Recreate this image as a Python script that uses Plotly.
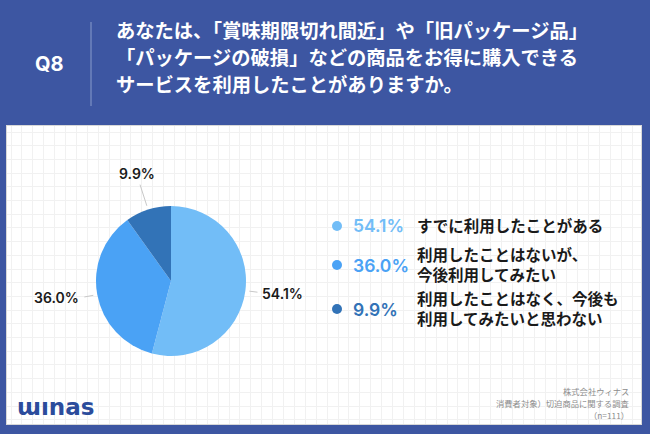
import math
import plotly.graph_objects as go

W, H = 650, 434

# ---- data ----
categories = ["すでに利用したことがある",
              "利用したことはないが、<br>今後利用してみたい",
              "利用したことはなく、今後も<br>利用してみたいと思わない"]
values = [54.1, 36.0, 9.9]
colors = ["#72BDF7", "#4AA2F5", "#3273B7"]
question_lines = ["あなたは、「賞味期限切れ間近」や「旧パッケージ品」",
                  "「パッケージの破損」などの商品をお得に購入できる",
                  "サービスを利用したことがありますか。"]
q_label = "Q8"
footer_lines = ["株式会社ウィナス", "消費者対象）切迫商品に関する調査", "（n=111）"]

BG = "#3D56A2"
JP = "Noto Sans CJK JP"
NUM = "Inter, Noto Sans CJK JP"


def px(x):
    return x / W


def py(y):
    return 1 - y / H


def ann(**kw):
    d = dict(xref="paper", yref="paper", showarrow=False)
    d.update(kw)
    return d


# pie geometry (pixels)
CX, CY, R = 171, 281, 75

fig = go.Figure()

# invisible scatter to render the gridded white panel
fig.add_trace(go.Scatter(x=[10], y=[130], mode="markers", marker=dict(opacity=0),
                         hoverinfo="skip", showlegend=False))

fig.add_trace(go.Pie(
    values=values, labels=categories, sort=False, direction="clockwise", rotation=0,
    marker=dict(colors=colors, line=dict(width=0)), textinfo="none", hoverinfo="skip",
    showlegend=False,
    domain=dict(x=[px(CX - R), px(CX + R)], y=[py(CY + R), py(CY - R)]),
))

annotations = []
shapes = []

# pie outside labels with leader lines
total = sum(values)
cum = 0.0
for v in values:
    mid = (cum + v / 2) / total * 2 * math.pi
    cum += v
    s, c = math.sin(mid), -math.cos(mid)
    r1 = R + 4
    r2 = R + 10 + 17 * abs(c)
    x1, y1 = CX + r1 * s, CY + r1 * c
    x2, y2 = CX + r2 * s, CY + r2 * c
    shapes.append(dict(type="line", xref="paper", yref="paper", x0=px(x1), y0=py(y1),
                       x1=px(x2), y1=py(y2), line=dict(color="#C8C8C8", width=1)))
    txt = f"{v:.1f}%"
    if abs(s) > 0.6:
        xa = "left" if s > 0 else "right"
        annotations.append(ann(x=px(x2 + (3 if s > 0 else -3)), y=py(y2 + 1), text=txt,
                               xanchor=xa, yanchor="middle",
                               font=dict(family=NUM, size=14, color="#1A1A1A", weight=600)))
    else:
        annotations.append(ann(x=px(x2 - 3), y=py(y2 - 1), text=txt,
                               xanchor="center", yanchor="bottom",
                               font=dict(family=NUM, size=14, color="#1A1A1A", weight=600)))

# legend on the right
leg_y = [226, 265, 309]
for i, (cat, v, col) in enumerate(zip(categories, values, colors)):
    y = leg_y[i]
    shapes.append(dict(type="circle", xref="paper", yref="paper",
                       x0=px(337 - 5), x1=px(337 + 5), y0=py(y + 5), y1=py(y - 5),
                       fillcolor=col, line=dict(width=0)))
    annotations.append(ann(x=px(351), y=py(y), text=f"{v:.1f}%", xanchor="left",
                           yanchor="middle",
                           font=dict(family=NUM, size=17.5, color=col, weight=600)))
    text = "<br>".join(f"<b>{ln}</b>" for ln in cat.split("<br>"))
    annotations.append(ann(x=px(415), y=py(y - 1), text=text, xanchor="left",
                           yanchor="middle", align="left",
                           font=dict(family=JP, size=15.5, color="#1A1A1A")))

# header
annotations.append(ann(x=px(49), y=py(64), text=f"<b>{q_label}</b>", xanchor="center",
                       yanchor="middle",
                       font=dict(family="Inter, Roboto", size=20, color="white")))
shapes.append(dict(type="line", xref="paper", yref="paper", x0=px(91), x1=px(91),
                   y0=py(22), y1=py(106), line=dict(color="#8A9CCB", width=1)))
for j, ln in enumerate(question_lines):
    annotations.append(ann(x=px(114), y=py(30 + 27 * j), text=f"<b>{ln}</b>",
                           xanchor="left", yanchor="middle",
                           font=dict(family=JP, size=19.3, color="white")))

# footer
for j, ln in enumerate(footer_lines):
    annotations.append(ann(x=px(631), y=py(391 + 12 * j), text=ln, xanchor="right",
                           yanchor="middle",
                           font=dict(family=JP, size=8.3, color="#8C8C8C")))

# logo
annotations.append(ann(x=px(15), y=py(407), text="<b>ɯınas</b>", xanchor="left",
                       yanchor="middle",
                       font=dict(family="DejaVu Sans", size=23, color="#2B4C9C")))

PX0, PX1, PY0, PY1 = 7, 641, 126, 424
fig.update_layout(
    width=W, height=H, margin=dict(l=0, r=0, t=0, b=0),
    paper_bgcolor=BG, plot_bgcolor="white",
    xaxis=dict(domain=[px(PX0), px(PX1)], range=[PX0, PX1], tick0=PX0 + 4, dtick=10.9,
               showticklabels=False, ticks="", zeroline=False, showgrid=True,
               gridcolor="#F1F1F1", gridwidth=1, showline=True, linecolor="#D8D8D8",
               mirror=True, fixedrange=True),
    yaxis=dict(domain=[py(PY1), py(PY0)], range=[PY1, PY0], tick0=PY0 + 6, dtick=13.7,
               showticklabels=False, ticks="", zeroline=False, showgrid=True,
               gridcolor="#F1F1F1", gridwidth=1, showline=True, linecolor="#D8D8D8",
               mirror=True, fixedrange=True),
    annotations=annotations, shapes=shapes, showlegend=False,
)

fig.write_html("out.html")
